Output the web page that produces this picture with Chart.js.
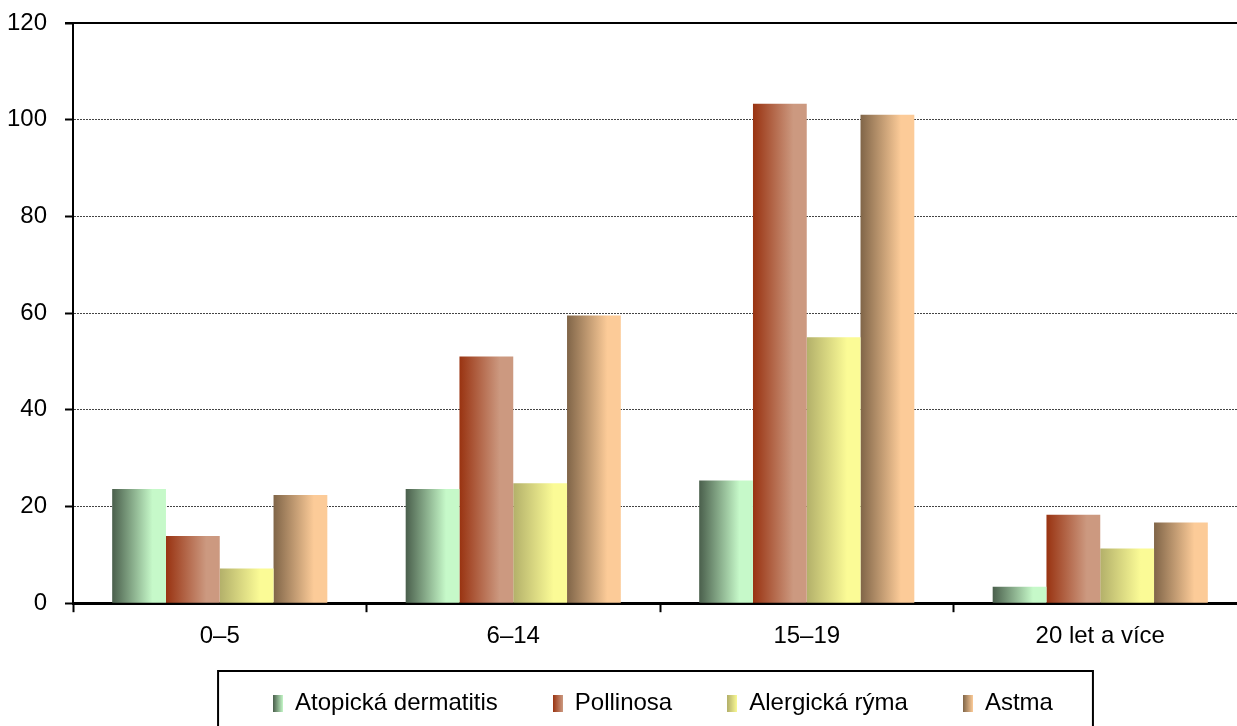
<!DOCTYPE html>
<html>
<head>
<meta charset="utf-8">
<script src="https://cdn.jsdelivr.net/npm/chart.js@4/dist/chart.umd.min.js"></script>
<style>
html, body { margin: 0; padding: 0; background: #fff; overflow: hidden; }
#wrap { width: 1250px; height: 726px; position: relative; }
</style>
</head>
<body>
<div id="wrap"><canvas id="statsChart"></canvas></div>
<script>
const categories = ['0–5', '6–14', '15–19', '20 let a více']
const seriesNames = ['Atopická dermatitis', 'Pollinosa', 'Alergická rýma', 'Astma']
const atopicka = [23.6, 23.6, 25.4, 3.4]
const pollinosa = [13.9, 51.0, 103.3, 18.3]
const ryma = [7.2, 24.8, 55.0, 11.3]
const astma = [22.4, 59.5, 101.0, 16.7]
const yTicks = [0, 20, 40, 60, 80, 100, 120]

// dark -> light, one pair per series
const shades = [
    ['#4a5f4c', '#c6f9c9'],
    ['#993311', '#cc9980'],
    ['#b3b06a', '#fbfb96'],
    ['#806548', '#fccb98']
]
const CAT_PCT = 0.733
const FONT = "'Liberation Sans', Arial, sans-serif"

function barFill(c)
{
    const chart = c.chart
    const xs = chart.scales.x
    const pair = shades[c.datasetIndex]
    if (!xs || c.type !== 'data') return pair[0]
    const group = xs.width / categories.length * CAT_PCT
    const bw = group / seriesNames.length
    const left = xs.getPixelForValue(c.dataIndex) - group / 2 + c.datasetIndex * bw
    const g = chart.ctx.createLinearGradient(left, 0, left + bw, 0)
    g.addColorStop(0, pair[0])
    g.addColorStop(0.75, pair[1])
    g.addColorStop(1, pair[1])
    return g
}

// small legend swatches, same gradient as the bars
const swatches = shades.map(pair => {
    const cv = document.createElement('canvas')
    cv.width = 10
    cv.height = 17
    const cx = cv.getContext('2d')
    const g = cx.createLinearGradient(0, 0, 10, 0)
    g.addColorStop(0, pair[0])
    g.addColorStop(1, pair[1])
    cx.fillStyle = g
    cx.fillRect(0, 0, 10, 17)
    return cv
})

const frame = {
    id: 'frame',
    afterLayout(chart) {
        // legend sits under the plot, centred on the plot rather than the canvas
        const lg = chart.legend
        lg.left = chart.chartArea.left + 6
        lg.top = 636
        lg.bottom = chart.height
    },
    afterDraw(chart) {
        const ctx = chart.ctx
        const a = chart.chartArea
        ctx.save()
        ctx.strokeStyle = '#000'
        ctx.lineWidth = 2
        ctx.beginPath()
        ctx.moveTo(a.left - 8, a.top)
        ctx.lineTo(a.right, a.top)
        ctx.stroke()
        const hb = chart.legend.legendHitBoxes
        if (hb && hb.length) {
            const first = hb[0], last = hb[hb.length - 1]
            const x1 = first.left - 55
            const x2 = last.left + last.width + 40
            const y1 = first.top - 20
            ctx.strokeRect(x1, y1, x2 - x1, chart.height + 20 - y1)
        }
        ctx.restore()
    }
}

const data = [atopicka, pollinosa, ryma, astma]

new Chart(document.getElementById('statsChart'), {
    type: 'bar',
    data: {
        labels: categories,
        datasets: seriesNames.map((name, i) => ({
            label: name,
            data: data[i],
            backgroundColor: barFill,
            borderWidth: 0,
            barPercentage: 1,
            categoryPercentage: CAT_PCT
        }))
    },
    options: {
        responsive: true,
        maintainAspectRatio: false,
        animation: false,
        layout: { padding: { left: 0, right: 3, top: 23, bottom: 0 } },
        plugins: {
            tooltip: { enabled: false },
            legend: {
                position: 'bottom',
                maxHeight: 65,
                labels: {
                    usePointStyle: true,
                    pointStyleWidth: 10,
                    boxHeight: 17,
                    padding: 55,
                    color: '#000',
                    font: { family: FONT, size: 24 },
                    generateLabels: () => seriesNames.map((name, i) => ({
                        text: name,
                        pointStyle: swatches[i],
                        fillStyle: shades[i][0],
                        strokeStyle: 'rgba(0,0,0,0)',
                        lineWidth: 0,
                        hidden: false,
                        datasetIndex: i,
                        fontColor: '#000'
                    }))
                }
            }
        },
        scales: {
            x: {
                afterFit: s => { s.paddingLeft = 0; s.paddingRight = 0 },
                grid: {
                    offset: true,
                    drawOnChartArea: false,
                    tickLength: 9,
                    tickColor: '#000',
                    tickWidth: 2
                },
                border: { color: '#000', width: 3 },
                ticks: {
                    padding: 10,
                    color: '#000',
                    font: { family: FONT, size: 24 }
                }
            },
            y: {
                min: 0,
                max: 120,
                afterFit: s => { s.width = 73; s.paddingTop = 0; s.paddingBottom = 0 },
                afterBuildTicks: s => { s.ticks = yTicks.map(v => ({ value: v })) },
                grid: {
                    color: c => (c.tick && (c.tick.value === 0 || c.tick.value === 120)) ? 'rgba(0,0,0,0)' : '#444',
                    lineWidth: 1,
                    tickLength: 8,
                    tickColor: '#000',
                    tickWidth: 2
                },
                border: { color: '#000', width: 2, dash: [2, 1] },
                ticks: {
                    padding: 18,
                    color: '#000',
                    font: { family: FONT, size: 24 }
                }
            }
        }
    },
    plugins: [frame]
})
</script>
</body>
</html>
